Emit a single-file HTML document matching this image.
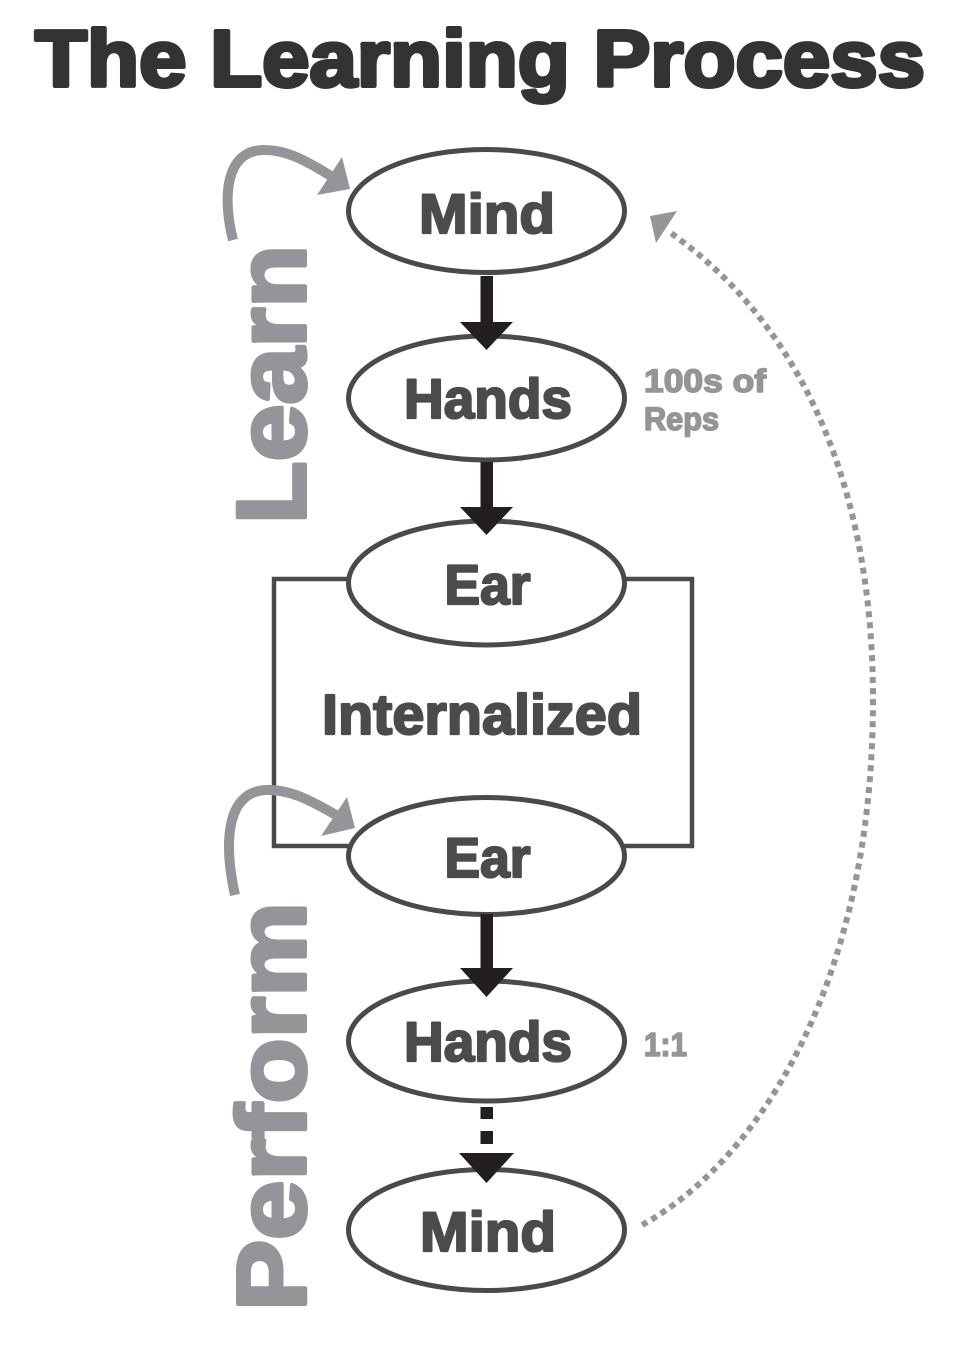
<!DOCTYPE html>
<html>
<head>
<meta charset="utf-8">
<style>
  html, body { margin: 0; padding: 0; background: #ffffff; }
  body { width: 960px; height: 1352px; overflow: hidden; }
  svg { display: block; }
  text { font-family: "Liberation Sans", "DejaVu Sans", sans-serif; font-weight: bold; }
</style>
</head>
<body>
<svg width="960" height="1352" viewBox="0 0 960 1352" xmlns="http://www.w3.org/2000/svg">
  <!-- Title -->
  <text x="35" y="86" font-size="80" fill="#333333" stroke="#333333" stroke-width="4" stroke-linejoin="round" textLength="890" lengthAdjust="spacingAndGlyphs">The Learning Process</text>

  <!-- Internalized box -->
  <rect x="274" y="579" width="418" height="267" fill="none" stroke="#4a4a4a" stroke-width="4.5"/>

  <!-- Ellipses -->
  <g fill="#ffffff" stroke="#4a4a4a" stroke-width="5">
    <ellipse cx="486.5" cy="211" rx="138" ry="61.5"/>
    <ellipse cx="486.5" cy="398" rx="138" ry="62"/>
    <ellipse cx="486.5" cy="583" rx="138" ry="62"/>
    <ellipse cx="486.5" cy="856" rx="138" ry="58.5"/>
    <ellipse cx="486.5" cy="1041" rx="138" ry="60"/>
    <ellipse cx="486.5" cy="1230" rx="138" ry="60.5"/>
  </g>

  <!-- Node labels -->
  <g fill="#4b4b4b" stroke="#4b4b4b" stroke-width="2.2" stroke-linejoin="round" font-size="56" text-anchor="middle">
    <text x="487" y="233" textLength="136" lengthAdjust="spacingAndGlyphs">Mind</text>
    <text x="488" y="418" textLength="168" lengthAdjust="spacingAndGlyphs">Hands</text>
    <text x="487.5" y="604" textLength="86" lengthAdjust="spacingAndGlyphs">Ear</text>
    <text x="482" y="734" font-size="57" textLength="320" lengthAdjust="spacingAndGlyphs">Internalized</text>
    <text x="487.5" y="877" textLength="86" lengthAdjust="spacingAndGlyphs">Ear</text>
    <text x="488" y="1061" textLength="168" lengthAdjust="spacingAndGlyphs">Hands</text>
    <text x="488" y="1251" textLength="136" lengthAdjust="spacingAndGlyphs">Mind</text>
  </g>

  <!-- Black arrows -->
  <g fill="#231f20">
    <rect x="480.5" y="276" width="12.5" height="47"/>
    <polygon points="460,322 513,322 486.5,350"/>
    <rect x="480.5" y="462" width="12.5" height="46"/>
    <polygon points="460,507 513,507 486.5,535"/>
    <rect x="480.5" y="914" width="12.5" height="55"/>
    <polygon points="460,968 513,968 486.5,997"/>
    <rect x="480.5" y="1107" width="12.5" height="12"/>
    <rect x="480.5" y="1131" width="12.5" height="13"/>
    <polygon points="459,1153 514,1153 486.5,1183"/>
  </g>

  <!-- Side labels -->
  <g fill="#939598" stroke="#939598" stroke-width="1.6" stroke-linejoin="round">
    <text x="644" y="392" font-size="32" textLength="122" lengthAdjust="spacingAndGlyphs">100s of</text>
    <text x="644" y="430" font-size="32" textLength="75" lengthAdjust="spacingAndGlyphs">Reps</text>
    <text x="644" y="1056" font-size="33" textLength="43" lengthAdjust="spacingAndGlyphs">1:1</text>
  </g>

  <!-- Vertical Learn / Perform -->
  <g fill="#939598" stroke="#939598" stroke-width="4" stroke-linejoin="round" font-size="97">
    <text transform="translate(305,524) rotate(-90)" x="0" y="0" textLength="279" lengthAdjust="spacingAndGlyphs">Learn</text>
    <text transform="translate(305,1311) rotate(-90)" x="0" y="0" textLength="409" lengthAdjust="spacingAndGlyphs">Perform</text>
  </g>

  <!-- Gray curved arrows -->
  <g fill="none" stroke="#939598" stroke-width="10">
    <path d="M 233 240 C 224 205, 222 152, 262 150 C 285 149, 305 160, 331 176"/>
    <path d="M 235 895 C 225 850, 223 792, 266 790 C 289 789, 310 800, 336 815"/>
  </g>
  <g fill="#939598">
    <polygon points="350,189 342,157 317,195"/>
    <polygon points="355,828 347,797 321,836"/>
  </g>

  <!-- Dotted return arc -->
  <path d="M 642 1225 C 760 1160, 873 980, 873 700 C 873 500, 810 330, 668 231" fill="none" stroke="#939598" stroke-width="6" stroke-dasharray="6 5"/>
  <polygon points="650,216 677,211 656,243" fill="#939598"/>
</svg>
</body>
</html>
